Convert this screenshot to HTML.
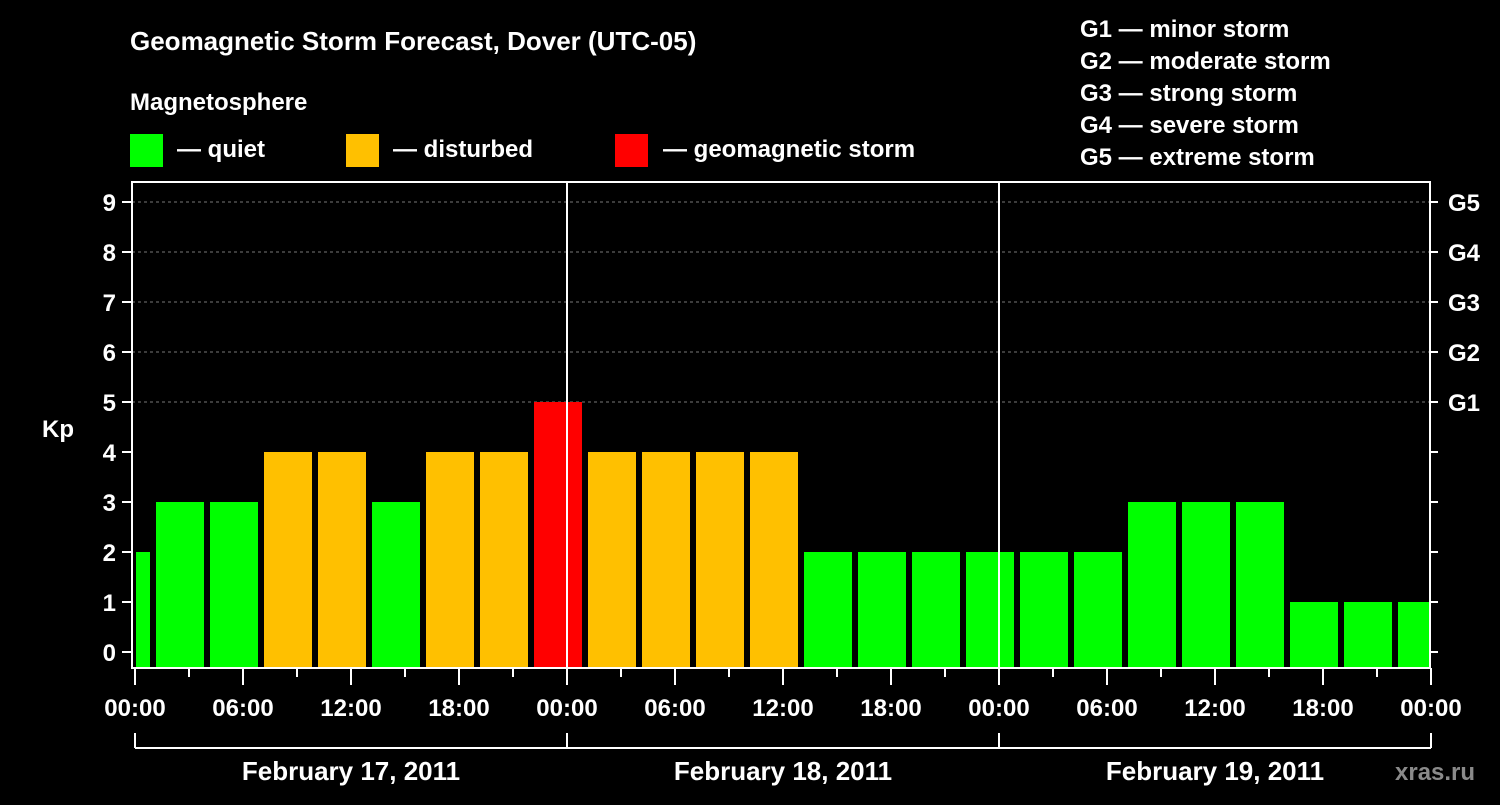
<!DOCTYPE html>
<html><head><meta charset="utf-8"><style>
body{margin:0;background:#000;width:1500px;height:800px;overflow:hidden}
svg text{font-family:"Liberation Sans",Arial,sans-serif;font-weight:bold;fill:#fff}
</style></head><body>
<svg id="chart" width="1500" height="800" xmlns="http://www.w3.org/2000/svg">
<text x="130" y="50" font-size="26">Geomagnetic Storm Forecast, Dover (UTC-05)</text>
<text x="130" y="110" font-size="24">Magnetosphere</text>
<g><rect x="130" y="134" width="33" height="33" fill="#00ff00"/><text x="177" y="157" font-size="24">— quiet</text></g>
<g><rect x="346" y="134" width="33" height="33" fill="#ffc000"/><text x="393" y="157" font-size="24">— disturbed</text></g>
<g><rect x="615" y="134" width="33" height="33" fill="#ff0000"/><text x="663" y="157" font-size="24">— geomagnetic storm</text></g>
<g font-size="24">
<text x="1080" y="37">G1 — minor storm</text>
<text x="1080" y="69">G2 — moderate storm</text>
<text x="1080" y="101">G3 — strong storm</text>
<text x="1080" y="133">G4 — severe storm</text>
<text x="1080" y="165">G5 — extreme storm</text>
</g>
<g id="plot"></g>
<text x="1395" y="780" font-size="24" fill="#888" style="fill:#8a8a8a">xras.ru</text>
</svg>
<script>
const kpValues=[2,3,3,4,4,3,4,4,5,4,4,4,4,2,2,2,2,2,2,3,3,3,1,1,1];
const slotStartHours=[0,1,4,7,10,13,16,19,22,25,28,31,34,37,40,43,46,49,52,55,58,61,64,67,70];
const yTicks=[0,1,2,3,4,5,6,7,8,9];
const gLabels=["G1","G2","G3","G4","G5"];
const xTickLabels=["00:00","06:00","12:00","18:00","00:00","06:00","12:00","18:00","00:00","06:00","12:00","18:00","00:00"];
const dayLabels=["February 17, 2011","February 18, 2011","February 19, 2011"];
const NS="http://www.w3.org/2000/svg";
const g=document.getElementById('plot');
const X0=135,PXH=18,L=132,R=1430,T=182,B=668;
const xh=h=>X0+h*PXH;
const yk=k=>652-50*k;
function mk(tag,attrs){const e=document.createElementNS(NS,tag);for(const k in attrs)e.setAttribute(k,attrs[k]);g.appendChild(e);return e;}
yTicks.forEach(k=>{if(k>=5){const l=mk('line',{x1:L,x2:R,y1:yk(k),y2:yk(k),stroke:'#777','stroke-dasharray':'3,3'});

}});
kpValues.forEach((v,i)=>{
 const s=slotStartHours[i],e=(i+1<slotStartHours.length)?slotStartHours[i+1]:72;
 const x1=s===0?xh(s)+1:xh(s)+3, x2=e===72?xh(e)-2:xh(e)-3;
 const c=v>=5?'#ff0000':(v>=4?'#ffc000':'#00ff00');
 const r=mk('rect',{x:x1,y:yk(v),width:x2-x1,height:B-1-yk(v),fill:c});
 
 
});
[24,48].forEach(h=>{const l=mk('line',{x1:xh(h),x2:xh(h),y1:T,y2:B,stroke:'#fff','stroke-width':2});

});
const fr=mk('rect',{x:L,y:T,width:R-L,height:B-T,fill:'none',stroke:'#fff','stroke-width':2});


yTicks.forEach(k=>{
 mk('line',{x1:122,x2:L,y1:yk(k),y2:yk(k),stroke:'#fff','stroke-width':2});
 mk('line',{x1:R,x2:R+8,y1:yk(k),y2:yk(k),stroke:'#fff','stroke-width':2});
 const t=mk('text',{x:116,y:yk(k)+9,'font-size':24,'text-anchor':'end'});t.textContent=k;
 
 
});
gLabels.forEach((s,i)=>{const t=mk('text',{x:1448,y:yk(5+i)+9,'font-size':24});t.textContent=s;

});
const kp=mk('text',{x:42,y:437,'font-size':24});kp.textContent='Kp';


for(let h=0;h<=72;h+=3){mk('line',{x1:xh(h),x2:xh(h),y1:B,y2:h%6===0?685:677,stroke:'#fff','stroke-width':2});}
xTickLabels.forEach((s,i)=>{const t=mk('text',{x:xh(i*6),y:716,'font-size':24,'text-anchor':'middle'});t.textContent=s;

});
mk('line',{x1:xh(0),x2:xh(72),y1:748,y2:748,stroke:'#fff','stroke-width':2});
[0,24,48,72].forEach(h=>mk('line',{x1:xh(h),x2:xh(h),y1:733,y2:748,stroke:'#fff','stroke-width':2}));
dayLabels.forEach((s,i)=>{const t=mk('text',{x:xh(i*24+12),y:780,'font-size':26,'text-anchor':'middle'});t.textContent=s;

});
</script>
</body></html>
